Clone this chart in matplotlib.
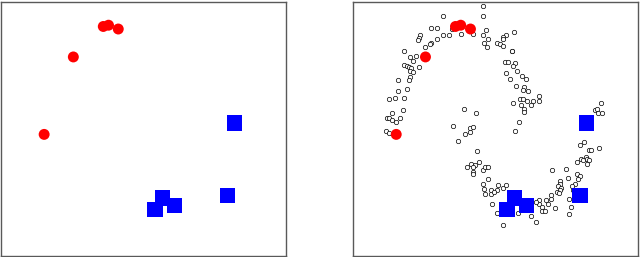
import matplotlib
matplotlib.use("Agg")
import matplotlib.pyplot as plt
import numpy as np

# labelled points
red_x = [-0.13, -0.06, 0.07, -0.53, -0.92]
red_y = [0.95, 0.96, 0.93, 0.71, 0.10]
blue_x = [1.62, 1.53, 0.66, 0.56, 0.82]
blue_y = [0.19, -0.38, -0.40, -0.49, -0.46]

# unlabelled points (two moons)
unl_x = [0.24, 0.24, -0.30, -0.45, -0.38, 0.10, -0.18, -0.21, -0.30, -0.38,
         -0.60, -0.62, -0.63, -0.46, -0.47, -0.54, -0.82, -0.74, -0.66, -0.70,
         -0.81, -0.78, -0.75, -0.72, -0.61, -0.74, -0.70, -0.74, -0.75, -0.90,
         -0.78, -0.90, -0.93, -1.02, -0.82, -0.98, -0.83, -1.04, -1.02, -0.98,
         -0.87, -0.92, -0.01, 0.14, -0.16, 0.06, 0.11, 0.28, 0.24, 0.30,
         0.25, 0.29, 0.65, 0.55, 0.51, 0.50, 0.42, 0.46, 0.50, 0.62,
         0.63, 0.53, 0.57, 0.66, 0.64, 0.69, 0.55, 0.76, 0.81, 0.60,
         0.68, 0.79, 0.84, 0.77, 0.98, 0.73, 0.77, 0.82, 0.90, 0.98,
         0.64, 0.74, 0.88, 0.78, 0.79, 0.72, 1.81, 1.73, 1.76, 1.77,
         1.82, -1.05, -1.02, 0.07, 0.00, -0.10, 0.16, 0.02, 0.08, 0.13,
         0.18, 0.11, 0.10, 0.10, 0.24, 0.26, 0.31, 0.30, 0.24, 0.25,
         0.27, 0.34, 0.35, 0.36, 0.67, 1.59, 1.53, 1.65, 1.68, 1.78,
         1.54, 1.57, 1.61, 1.62, 1.65, 1.62, 1.49, 1.16, 1.34, 1.49,
         1.53, 1.51, 1.46, 1.37, 1.27, 1.27, 1.24, 1.28, 1.26, 1.22,
         1.25, 1.42, 1.44, 1.39, 1.41, 1.38, 1.15, 1.14, 1.08, 1.10,
         1.20, 0.99, 0.98, 1.02, 1.03, 1.06, 0.95, 0.88, 0.94, 0.50,
         0.42, 0.70, 0.44, 0.50, 0.54, 0.42, 0.39, -0.05]
unl_y = [1.11, 1.03, 1.03, 0.94, 0.94, 0.89, 0.93, 0.88, 0.88, 0.85,
         0.88, 0.86, 0.84, 0.82, 0.81, 0.79, 0.76, 0.71, 0.72, 0.68,
         0.65, 0.64, 0.63, 0.62, 0.63, 0.60, 0.59, 0.55, 0.53, 0.53,
         0.46, 0.44, 0.39, 0.38, 0.39, 0.27, 0.29, 0.23, 0.23, 0.21,
         0.23, 0.20, 0.30, 0.27, 0.17, 0.15, 0.16, 0.92, 0.88, 0.85,
         0.82, 0.79, 0.91, 0.88, 0.87, 0.85, 0.82, 0.81, 0.80, 0.76,
         0.76, 0.67, 0.67, 0.66, 0.64, 0.60, 0.58, 0.56, 0.54, 0.54,
         0.48, 0.47, 0.44, 0.45, 0.40, 0.38, 0.38, 0.36, 0.36, 0.36,
         0.35, 0.33, 0.33, 0.30, 0.28, 0.20, 0.35, 0.29, 0.30, 0.27,
         0.27, 0.13, 0.11, 0.12, 0.10, 0.05, -0.03, -0.16, -0.13, -0.14,
         -0.12, -0.16, -0.20, -0.21, -0.18, -0.16, -0.16, -0.25, -0.29, -0.33,
         -0.37, -0.34, -0.37, -0.45, 0.13, 0.04, 0.02, -0.02, -0.02, -0.01,
         -0.09, -0.10, -0.08, -0.09, -0.10, -0.13, -0.12, -0.18, -0.17, -0.21,
         -0.23, -0.25, -0.29, -0.24, -0.27, -0.29, -0.31, -0.32, -0.34, -0.35,
         -0.36, -0.31, -0.34, -0.41, -0.47, -0.53, -0.38, -0.41, -0.42, -0.45,
         -0.48, -0.42, -0.45, -0.47, -0.50, -0.50, -0.43, -0.54, -0.59, -0.61,
         -0.52, -0.52, -0.30, -0.32, -0.30, -0.34, -0.35, 0.89]

xlim = (-1.49, 2.31)
ylim = (-0.854, 1.146)

fig = plt.figure(figsize=(6.4, 2.57), dpi=100)
ax1 = fig.add_axes([0.0023, 0.0058, 0.4445, 0.988])
ax2 = fig.add_axes([0.5523, 0.0058, 0.4453, 0.988])

ax2.scatter(unl_x, unl_y, s=10, facecolors='white', edgecolors='black', linewidths=0.5)

for ax in (ax1, ax2):
    ax.scatter(red_x, red_y, s=62, c='#ff0000', marker='o', edgecolors='none')
    ax.scatter(blue_x, blue_y, s=125, c='#0000ff', marker='s', edgecolors='none')
    ax.set_xlim(*xlim)
    ax.set_ylim(*ylim)
    ax.set_xticks([])
    ax.set_yticks([])
    for sp in ax.spines.values():
        sp.set_color('0.35')
        sp.set_linewidth(1.0)

fig.savefig('out.png', dpi=100)
